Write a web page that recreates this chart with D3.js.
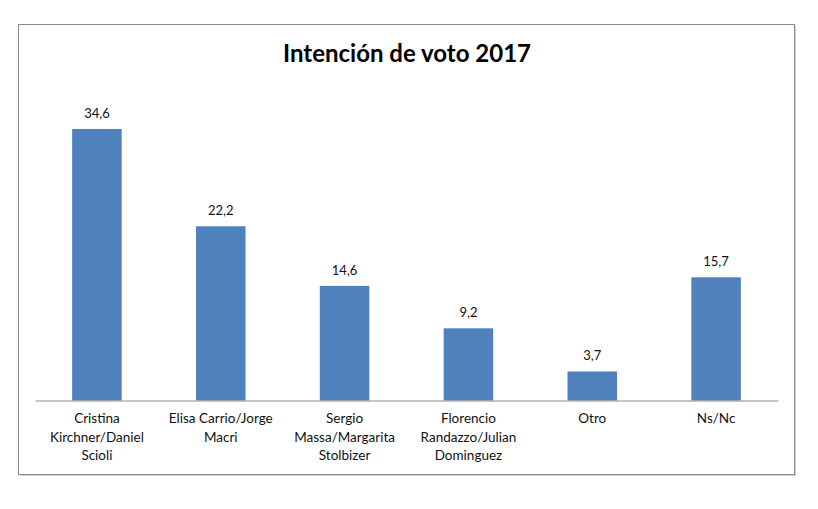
<!DOCTYPE html>
<html>
<head>
<meta charset="utf-8">
<script src="https://cdn.jsdelivr.net/npm/d3@7"></script>
<style>
  body { margin: 0; background: #fff; }
  svg { display: block; }
  .axis path { stroke: #8c8c8c; }
  .axis text { font-family: Lato, sans-serif; font-size: 13.5px; fill: #111; }
</style>
</head>
<body>
<div id="chart"></div>
<script>
// data
const categories = [
  'Cristina Kirchner/Daniel Scioli',
  'Elisa Carrio/Jorge Macri',
  'Sergio Massa/Margarita Stolbizer',
  'Florencio Randazzo/Julian Dominguez',
  'Otro',
  'Ns/Nc'
];
const categoryLines = [
  ['Cristina', 'Kirchner/Daniel', 'Scioli'],
  ['Elisa Carrio/Jorge', 'Macri'],
  ['Sergio', 'Massa/Margarita', 'Stolbizer'],
  ['Florencio', 'Randazzo/Julian', 'Dominguez'],
  ['Otro'],
  ['Ns/Nc']
];
const values = [34.6, 22.2, 14.6, 9.2, 3.7, 15.7];
const title = 'Intención de voto 2017';

const W = 818, H = 509;
const box = {x: 18, y: 24, w: 776, h: 450};
const plot = {l: 35, r: 778, t: 86.6, b: 400.5};

const svg = d3.select('#chart').append('svg')
  .attr('width', W)
  .attr('height', H);

// chart area frame with a light shadow
svg.append('rect')
  .attr('x', box.x + 2).attr('y', box.y + 2)
  .attr('width', box.w).attr('height', box.h)
  .attr('fill', '#d0d0d0');
svg.append('rect')
  .attr('x', box.x + 0.5).attr('y', box.y + 0.5)
  .attr('width', box.w).attr('height', box.h)
  .attr('fill', '#fff')
  .attr('stroke', '#8a8a8a')
  .attr('stroke-width', 1);

svg.append('text')
  .attr('x', box.x + box.w / 2 + 1)
  .attr('y', 62)
  .attr('text-anchor', 'middle')
  .style('font-family', 'Lato, sans-serif')
  .style('font-weight', 'bold')
  .style('font-size', '24px')
  .style('fill', '#000')
  .text(title);

const scaleX = d3.scaleBand()
  .domain(categories)
  .range([plot.l, plot.r])
  .padding(0);

const scaleY = d3.scaleLinear()
  .domain([0, 40])
  .range([plot.b, plot.t]);

const barW = scaleX.bandwidth() * 0.4;

svg.selectAll('.bar')
  .data(values)
  .enter().append('rect')
  .attr('class', 'bar')
  .attr('x', (d, i) => scaleX(categories[i]) + (scaleX.bandwidth() - barW) / 2)
  .attr('y', d => scaleY(d))
  .attr('width', barW)
  .attr('height', d => scaleY(0) - scaleY(d))
  .attr('fill', '#4f81bd');

svg.selectAll('.val')
  .data(values)
  .enter().append('text')
  .attr('class', 'val')
  .attr('x', (d, i) => scaleX(categories[i]) + scaleX.bandwidth() / 2)
  .attr('y', d => scaleY(d) - 11)
  .attr('text-anchor', 'middle')
  .style('font-family', 'Lato, sans-serif')
  .style('font-size', '13px')
  .style('fill', '#111')
  .text(d => d.toFixed(1).replace('.', ','));

////////////////////////////////////////////////////////////////////

const axisX = d3.axisBottom(scaleX)
  .tickSize(0)
  .tickSizeOuter(0)
  .tickFormat('');

const axisXNode = svg.append('g')
  .attr('class', 'axis axis-x')
  .attr('transform', `translate(0,${plot.b})`)
  .call(axisX);

axisXNode.selectAll('.tick text').remove();
axisXNode.selectAll('.tick')
  .append('text')
  .attr('text-anchor', 'middle')
  .selectAll('tspan')
  .data((d, i) => categoryLines[categories.indexOf(d)])
  .enter().append('tspan')
  .attr('x', 0)
  .attr('y', (d, i) => 22.5 + i * 18.7)
  .text(d => d);
</script>
</body>
</html>
